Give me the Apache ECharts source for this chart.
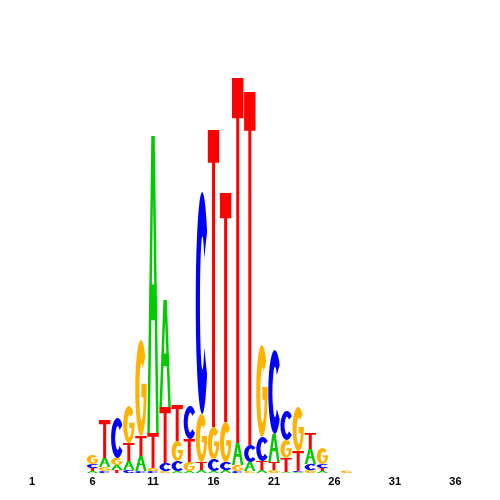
<!DOCTYPE html>
<html><head><meta charset="utf-8">
<script src="https://cdn.jsdelivr.net/npm/echarts@6/dist/echarts.min.js"></script>
<style>html,body{margin:0;padding:0;background:#fff}#c{width:500px;height:500px}</style>
</head><body><div id="c"></div>
<script>
// Sequence positions (x axis categories)
const positions = ['1','2','3','4','5','6','7','8','9','10','11','12','13','14','15','16','17','18',
  '19','20','21','22','23','24','25','26','27','28','29','30','31','32','33','34','35','36'];

// Letter heights (bits) per position
const heightA = [0,0,0,0,0, .02,.09,.05,.09,.15, 2.97,1.07,.02,.02,.03, .02,.03,.22,.09,.03, .28,.01,.01,.15,.02, 0,0,0,0,0, 0,0,0,0,0,0];
const heightC = [0,0,0,0,0, .04,.02,.40,.03,.02, .02,.08,.10,.33,2.22, .12,.08,.02,.17,.24, .84,.29,.01,.06,.04, 0,0,0,0,0, 0,0,0,0,0,0];
const heightG = [0,0,0,0,0, .09,.04,.07,.37,.96, .03,.02,.20,.09,.48, .32,.40,.06,.02,.92, .03,.18,.44,.03,.16, 0,.025,0,0,0, 0,0,0,0,0,0];
const heightT = [0,0,0,0,0, .03,.38,.03,.18,.20, .35,.56,.36,.23,.08, 2.97,2.29,3.65,3.53,.09, .08,.14,.20,.16,.03, 0,0,0,0,0, 0,0,0,0,0,0];

const letters = ['A','C','G','T'];
const letterColors = ['#00cc00','#0000ff','#ffb300','#ff0000'];
const letterPaths = [
  'M35,0 L65,0 L100,100 L78,100 L64.7,62 L35.3,62 L22,100 L0,100 Z M50,20 L39.5,50 L60.5,50 Z',
  'M88.3,17.9 A50,50 0 1 0 88.3,82.1 L66,70 A19,30 0 1 1 66,30 Z',
  'M88.3,17.9 A50,50 0 1 0 100,56 L100,46 L54,46 L54,60 L74,60 A19,30 0 1 1 66,30 Z',
  'M0,0 L100,0 L100,11 L63,11 L63,100 L37,100 L37,11 L0,11 Z'
];

const heights = [heightA, heightC, heightG, heightT];
const data = [];
positions.forEach((p, i) => {
  const stack = [0,1,2,3].map(l => ({l, h: heights[l][i]})).filter(o => o.h > 0);
  stack.sort((a, b) => a.h - b.h);
  let base = 0;
  stack.forEach(o => {
    data.push([i, base, base + o.h, o.l]);
    base += o.h;
  });
});

const chart = echarts.init(document.getElementById('c'), null, {renderer: 'canvas'});
chart.setOption({
  animation: false,
  backgroundColor: '#ffffff',
  grid: {left: 26, right: 38.5, top: 73, bottom: 27},
  xAxis: {
    type: 'category',
    data: positions,
    boundaryGap: true,
    axisLine: {show: false},
    axisTick: {show: false},
    splitLine: {show: false},
    axisLabel: {
      interval: 4,
      margin: 3,
      color: '#000',
      fontSize: 11,
      fontWeight: 'bold',
      fontFamily: 'Liberation Sans, Arial, sans-serif'
    }
  },
  yAxis: {type: 'value', min: 0, max: 4, show: false},
  series: [{
    type: 'custom',
    data: data,
    encode: {x: 0, y: [1, 2]},
    renderItem: function (params, api) {
      const x = api.value(0), y0 = api.value(1), y1 = api.value(2), li = api.value(3);
      const pb = api.coord([x, y0]);
      const pt = api.coord([x, y1]);
      const bw = api.size([1, 0])[0];
      const w = bw * 0.94;
      const h = pb[1] - pt[1];
      if (h <= 0) return null;
      return {
        type: 'path',
        shape: {pathData: letterPaths[li], x: pb[0] - w / 2, y: pt[1], width: w, height: h, layout: 'cover'},
        style: {fill: letterColors[li]}
      };
    }
  }]
});
</script>
</body></html>
